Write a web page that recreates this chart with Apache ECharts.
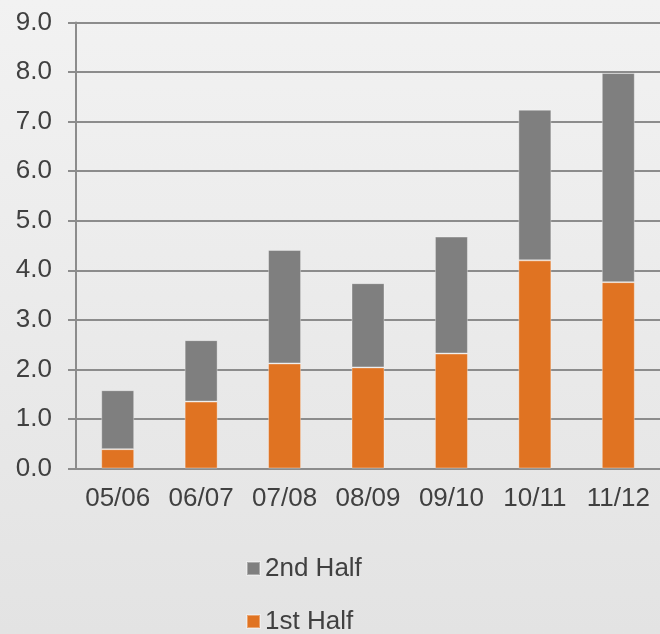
<!DOCTYPE html>
<html>
<head>
<meta charset="utf-8">
<script src="https://cdn.jsdelivr.net/npm/echarts@6/dist/echarts.min.js"></script>
<style>
html,body{margin:0;padding:0;}
#chart{width:660px;height:634px;}
</style>
</head>
<body>
<div id="chart"></div>
<script>
var categories = ['05/06','06/07','07/08','08/09','09/10','10/11','11/12'];
var firstHalf = [0.39, 1.35, 2.12, 2.04, 2.32, 4.20, 3.76];
var secondHalf = [1.19, 1.24, 2.29, 1.70, 2.36, 3.04, 4.22];
var legendNames = ['2nd Half', '1st Half'];

var chart = echarts.init(document.getElementById('chart'));
var textColor = '#404040';
var lineColor = '#8c8c8c';
var font = "'Liberation Sans', Arial, sans-serif";
chart.setOption({
  backgroundColor: {
    type: 'linear', x: 0, y: 0, x2: 0, y2: 1,
    colorStops: [{offset: 0, color: '#f2f2f2'}, {offset: 1, color: '#e3e3e3'}]
  },
  animation: false,
  grid: {left: 76, top: 22.5, width: 586, height: 446},
  legend: {
    data: legendNames,
    orient: 'vertical',
    left: 246,
    top: 555.5,
    height: 100,
    padding: 0,
    itemWidth: 13,
    itemHeight: 13,
    itemGap: 27,
    icon: 'rect',
    textStyle: {color: textColor, fontSize: 26, fontFamily: font}
  },
  xAxis: {
    type: 'category',
    data: categories,
    axisLine: {lineStyle: {color: lineColor, width: 2}},
    axisTick: {length: 8, lineStyle: {color: lineColor, width: 2}},
    axisLabel: {color: textColor, fontSize: 26, fontFamily: font, margin: 17, interval: 0}
  },
  yAxis: {
    type: 'value',
    min: 0, max: 9, interval: 1,
    axisLine: {show: true, lineStyle: {color: lineColor, width: 2}},
    axisTick: {show: true, length: 8, lineStyle: {color: lineColor, width: 2}},
    splitLine: {lineStyle: {color: lineColor, width: 2}},
    axisLabel: {color: textColor, fontSize: 26, fontFamily: font, margin: 24,
      formatter: function (v) { return v.toFixed(1); }}
  },
  series: [
    {name: '1st Half', type: 'bar', stack: 'total', data: firstHalf, barWidth: 33,
      itemStyle: {color: '#e07322', borderColor: 'rgba(255,255,255,0.35)', borderWidth: 1}},
    {name: '2nd Half', type: 'bar', stack: 'total', data: secondHalf, barWidth: 33,
      itemStyle: {color: '#7f7f7f', borderColor: 'rgba(255,255,255,0.35)', borderWidth: 1}}
  ]
});
</script>
</body>
</html>
